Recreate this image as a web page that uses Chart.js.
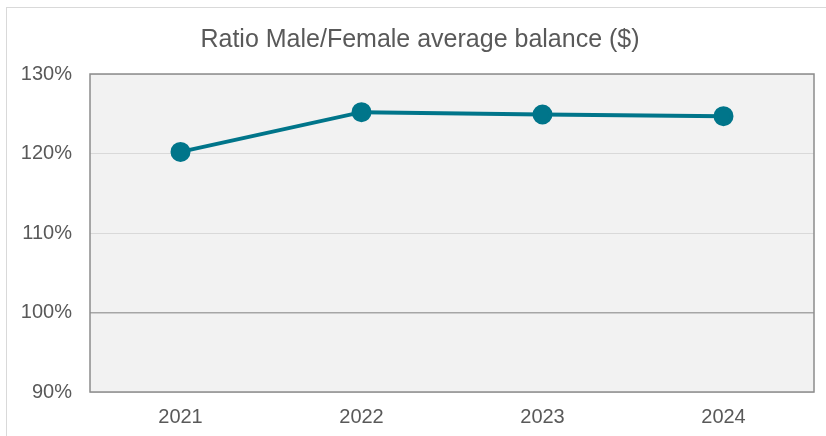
<!DOCTYPE html>
<html>
<head>
<meta charset="utf-8">
<script src="https://cdn.jsdelivr.net/npm/chart.js@4"></script>
<style>
  html, body { margin: 0; padding: 0; background: #ffffff; }
  #wrap { width: 826px; height: 436px; }
</style>
</head>
<body>
<div id="wrap"><canvas id="grafica" width="826" height="436"></canvas></div>
<script>
// Datos
const years = ['2021', '2022', '2023', '2024'];
const ratios = [120.2, 125.2, 124.9, 124.7];
const yTicks = [90, 100, 110, 120, 130];
const chartTitle = 'Ratio Male/Female average balance ($)';

const fuente = 'Liberation Sans, Arial, sans-serif';

// Fondo blanco, borde exterior, fondo gris del area de trazado y titulo
const fondoPlugin = {
    id: 'fondo',
    beforeDraw(chart) {
        const ctx = chart.ctx;
        const a = chart.chartArea;
        ctx.save();
        ctx.fillStyle = '#ffffff';
        ctx.fillRect(0, 0, chart.width, chart.height);
        ctx.strokeStyle = '#d9d9d9';
        ctx.lineWidth = 1;
        ctx.strokeRect(6.5, 7.5, chart.width + 10, chart.height + 10);
        ctx.fillStyle = '#f2f2f2';
        ctx.fillRect(a.left, a.top, a.right - a.left, a.bottom - a.top);
        // titulo centrado sobre todo el recuadro del grafico
        ctx.fillStyle = '#595959';
        ctx.font = '25px ' + fuente;
        ctx.textAlign = 'center';
        ctx.textBaseline = 'middle';
        ctx.fillText(chartTitle, 420, 40);
        ctx.restore();
    },
    beforeDatasetsDraw(chart) {
        const ctx = chart.ctx;
        const a = chart.chartArea;
        ctx.save();
        ctx.strokeStyle = '#8c8c8c';
        ctx.lineWidth = 1.5;
        ctx.strokeRect(a.left, a.top, a.right - a.left, a.bottom - a.top);
        ctx.restore();
    }
};

const ctx = document.getElementById('grafica').getContext('2d');
new Chart(ctx, {
    type: 'line',
    data: {
        labels: years,
        datasets: [{
            label: 'Ratio',
            data: ratios,
            borderColor: '#00758a',
            backgroundColor: '#00758a',
            borderWidth: 4,
            pointRadius: 8,
            pointHoverRadius: 8,
            pointBackgroundColor: '#00758a',
            pointBorderColor: '#00758a',
            fill: false,
            tension: 0
        }]
    },
    options: {
        responsive: false,
        animation: false,
        layout: { padding: { left: 0, right: 11, top: 74, bottom: 0 } },
        plugins: {
            legend: { display: false },
            tooltip: { enabled: false },
            title: { display: false }
        },
        scales: {
            x: {
                offset: true,
                grid: { display: false, drawTicks: false },
                border: { display: false },
                ticks: {
                    color: '#595959',
                    padding: 13,
                    font: { family: fuente, size: 20 }
                },
                afterFit(scale) { scale.height = 44; }
            },
            y: {
                min: 90,
                max: 130,
                afterBuildTicks(scale) {
                    scale.ticks = yTicks.map(v => ({ value: v }));
                },
                grid: {
                    drawTicks: false,
                    color: c => (c.tick && c.tick.value === 100) ? '#a6a6a6' : '#d9d9d9',
                    lineWidth: c => (c.tick && c.tick.value === 100) ? 1.5 : 1
                },
                border: { display: false },
                ticks: {
                    color: '#595959',
                    padding: 18,
                    font: { family: fuente, size: 20 },
                    callback: v => v + '%'
                },
                afterFit(scale) { scale.width = 90; }
            }
        }
    },
    plugins: [fondoPlugin]
});
</script>
</body>
</html>
